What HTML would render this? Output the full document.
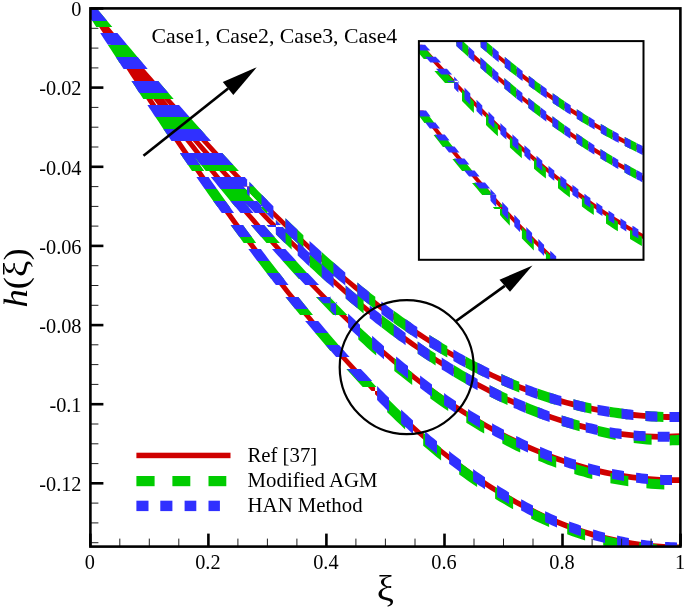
<!DOCTYPE html>
<html><head><meta charset="utf-8"><title>h(xi)</title>
<style>
html,body{margin:0;padding:0;background:#fff;}
svg{display:block;font-family:"Liberation Serif","DejaVu Serif",serif;}
</style></head><body>
<svg width="685" height="609" viewBox="0 0 685 609">
<rect width="685" height="609" fill="#fff"/>
<defs><clipPath id="pc"><rect x="90.4" y="8.4" width="590.0" height="538.2"/></clipPath>
<clipPath id="ic"><rect x="418.9" y="41.1" width="224.6" height="218.7"/></clipPath></defs>
<g clip-path="url(#pc)">
<path fill="#cf0000" d="M87.2,8.5 91.6,15.4 96.0,22.1 100.4,28.9 104.7,35.6 109.2,42.4 113.5,49.1 117.9,55.9 122.2,62.5 126.7,69.3 131.0,75.9 135.4,82.6 139.7,89.2 144.2,95.8 148.5,102.4 152.9,109.0 157.3,115.5 161.7,122.1 166.0,128.5 170.4,135.0 174.8,141.4 179.2,147.9 183.5,154.2 187.9,160.6 192.3,166.9 196.7,173.3 201.0,179.4 205.4,185.7 209.8,191.9 214.2,198.1 218.5,204.2 222.9,210.3 227.3,216.3 231.7,222.4 236.0,228.3 240.4,234.3 244.8,240.1 249.2,246.1 253.5,251.8 257.9,257.6 262.3,263.3 266.7,269.1 271.0,274.6 275.4,280.3 279.8,285.8 284.2,291.4 288.5,296.8 292.9,302.2 297.3,307.5 301.7,312.9 306.0,318.1 310.4,323.4 314.7,328.5 319.2,333.7 323.5,338.7 327.9,343.7 332.2,348.6 336.6,353.6 341.0,358.4 345.4,363.2 349.7,367.9 354.1,372.7 358.4,377.2 362.9,381.9 367.2,386.3 371.6,390.9 378.2,390.9 373.8,386.3 369.5,381.9 365.0,377.2 360.7,372.7 356.3,367.9 351.9,363.2 347.5,358.4 343.1,353.6 338.7,348.6 334.4,343.7 329.9,338.7 325.6,333.7 321.2,328.5 316.8,323.4 312.4,318.1 308.1,312.9 303.6,307.5 299.3,302.2 294.9,296.8 290.5,291.4 286.1,285.8 281.8,280.3 277.3,274.6 273.0,269.1 268.6,263.3 264.2,257.6 259.8,251.8 255.5,246.1 251.1,240.1 246.7,234.3 242.3,228.3 238.0,222.4 233.5,216.3 229.2,210.3 224.8,204.2 220.4,198.1 216.0,191.9 211.7,185.7 207.2,179.4 202.9,173.3 198.5,166.9 194.2,160.6 189.7,154.2 185.4,147.9 181.0,141.4 176.6,135.0 172.2,128.5 167.9,122.1 163.4,115.5 159.1,109.0 154.7,102.4 150.4,95.8 145.9,89.2 141.6,82.6 137.2,75.9 132.8,69.3 128.4,62.5 124.1,55.9 119.7,49.1 115.3,42.4 110.9,35.6 106.6,28.9 102.1,22.1 97.8,15.4 93.4,8.5ZM375.0,387.6 381.8,394.4 388.6,401.1 395.4,407.7 402.2,414.0 409.0,420.3 415.8,426.4 422.5,432.4 429.3,438.2 436.1,443.9 442.9,449.4 449.7,454.7 456.5,459.9 463.3,465.0 470.1,469.9 476.8,474.7 483.6,479.3 490.4,483.7 497.2,488.0 504.0,492.1 510.8,496.1 517.6,499.9 524.4,503.6 531.3,507.1 538.0,510.5 544.8,513.7 551.6,516.7 558.4,519.6 565.2,522.3 572.0,524.8 578.8,527.2 585.6,529.5 592.4,531.5 599.1,533.5 605.9,535.2 612.7,536.8 619.5,538.3 626.3,539.6 633.1,540.7 639.9,541.7 646.7,542.6 653.4,543.3 660.2,543.8 667.0,544.2 673.8,544.4 680.6,544.5 680.6,550.3 673.8,550.2 667.0,550.0 660.2,549.6 653.4,549.1 646.7,548.4 639.9,547.5 633.1,546.6 626.3,545.4 619.5,544.1 612.7,542.7 605.9,541.1 599.1,539.3 592.4,537.4 585.6,535.3 578.8,533.1 572.0,530.7 565.2,528.2 558.4,525.5 551.6,522.7 544.8,519.6 538.0,516.5 531.3,513.2 524.4,509.6 517.6,506.0 510.8,502.2 504.0,498.2 497.2,494.1 490.4,489.9 483.6,485.5 476.8,480.9 470.1,476.2 463.3,471.3 456.5,466.2 449.7,461.1 442.9,455.7 436.1,450.2 429.3,444.6 422.5,438.8 415.8,432.9 409.0,426.8 402.2,420.6 395.4,414.2 388.6,407.7 381.8,401.1 375.0,394.3ZM87.2,8.5 91.8,15.0 96.4,21.5 101.0,27.9 105.7,34.4 110.3,40.8 114.9,47.2 119.4,53.4 124.1,59.7 128.7,66.0 133.3,72.3 137.9,78.6 142.5,84.8 147.2,91.0 151.8,97.2 156.4,103.3 161.0,109.4 165.7,115.5 170.3,121.5 174.9,127.6 179.4,133.4 184.0,139.4 188.7,145.3 193.3,151.2 197.9,157.0 202.5,162.8 207.1,168.6 211.8,174.3 216.4,180.0 221.0,185.6 225.6,191.2 230.2,196.8 234.9,202.3 239.4,207.7 244.0,213.2 248.6,218.6 253.2,223.9 257.9,229.2 262.5,234.5 267.1,239.7 271.7,244.9 276.3,250.1 281.0,255.1 285.6,260.2 290.2,265.2 294.8,270.1 299.3,274.9 303.9,279.8 308.6,284.6 313.2,289.3 317.8,294.0 322.4,298.7 327.0,303.3 333.7,303.3 329.1,298.7 324.4,294.0 319.8,289.3 315.2,284.6 310.5,279.8 305.9,274.9 301.4,270.1 296.7,265.2 292.1,260.2 287.5,255.1 282.8,250.1 278.2,244.9 273.6,239.7 269.0,234.5 264.3,229.2 259.7,223.9 255.1,218.6 250.4,213.2 245.8,207.7 241.3,202.3 236.6,196.8 232.0,191.2 227.4,185.6 222.8,180.0 218.1,174.3 213.5,168.6 208.9,162.8 204.3,157.0 199.6,151.2 195.0,145.3 190.4,139.4 185.7,133.4 181.2,127.6 176.6,121.5 172.0,115.5 167.3,109.4 162.7,103.3 158.1,97.2 153.5,91.0 148.8,84.8 144.2,78.6 139.6,72.3 135.0,66.0 130.3,59.7 125.7,53.4 121.2,47.2 116.5,40.8 111.9,34.4 107.3,27.9 102.7,21.5 98.0,15.0 93.4,8.5ZM330.5,300.1 337.3,306.8 344.2,313.5 351.0,319.9 357.9,326.3 364.8,332.6 371.7,338.8 378.5,344.8 385.4,350.7 392.2,356.5 399.1,362.2 406.0,367.7 412.8,373.1 419.7,378.4 426.6,383.5 433.5,388.6 440.3,393.5 447.1,398.2 454.0,402.8 460.9,407.3 467.8,411.7 474.6,415.9 481.5,420.0 488.4,423.9 495.2,427.7 502.1,431.4 508.9,434.9 515.8,438.3 522.7,441.6 529.6,444.7 536.5,447.7 543.3,450.5 550.1,453.2 557.0,455.7 563.9,458.2 570.7,460.4 577.6,462.5 584.5,464.5 591.4,466.4 598.3,468.1 605.0,469.6 611.9,471.0 618.8,472.3 625.7,473.4 632.6,474.4 639.4,475.2 646.3,475.9 653.2,476.5 660.0,476.9 666.8,477.1 673.7,477.3 680.6,477.2 680.6,483.0 673.7,483.1 666.8,482.9 660.0,482.7 653.2,482.3 646.3,481.7 639.4,481.0 632.6,480.2 625.7,479.2 618.8,478.1 611.9,476.8 605.0,475.4 598.3,473.9 591.4,472.2 584.5,470.4 577.6,468.4 570.7,466.3 563.9,464.1 557.0,461.7 550.1,459.1 543.3,456.4 536.5,453.6 529.6,450.7 522.7,447.6 515.8,444.3 508.9,440.9 502.1,437.5 495.2,433.8 488.4,430.0 481.5,426.1 474.6,422.0 467.8,417.8 460.9,413.5 454.0,409.0 447.1,404.4 440.3,399.7 433.5,394.8 426.6,389.8 419.7,384.7 412.8,379.4 406.0,374.1 399.1,368.6 392.2,362.9 385.4,357.1 378.5,351.2 371.7,345.3 364.8,339.1 357.9,332.9 351.0,326.5 344.2,320.1 337.3,313.4 330.5,306.7ZM87.2,8.5 91.9,14.9 96.7,21.3 101.4,27.6 106.1,33.8 111.0,40.1 115.7,46.3 120.4,52.4 125.2,58.6 129.9,64.6 134.6,70.6 139.5,76.7 144.2,82.6 148.9,88.5 153.7,94.4 158.4,100.2 163.2,106.0 168.0,111.8 172.7,117.4 177.4,123.0 182.2,128.7 186.9,134.3 191.7,139.8 196.5,145.3 201.2,150.7 205.9,156.1 210.7,161.5 215.4,166.8 220.2,172.0 225.0,177.3 229.7,182.5 234.4,187.6 239.2,192.7 243.9,197.7 248.6,202.7 253.5,207.7 258.2,212.6 262.9,217.5 267.7,222.4 272.4,227.1 279.1,227.1 274.4,222.4 269.5,217.5 264.8,212.6 260.1,207.7 255.2,202.7 250.5,197.7 245.8,192.7 241.0,187.6 236.2,182.5 231.5,177.3 226.7,172.0 221.9,166.8 217.2,161.5 212.4,156.1 207.7,150.7 202.9,145.3 198.1,139.8 193.4,134.3 188.7,128.7 183.8,123.0 179.1,117.4 174.4,111.8 169.5,106.0 164.8,100.2 160.1,94.4 155.3,88.5 150.5,82.6 145.8,76.7 141.0,70.6 136.3,64.6 131.5,58.6 126.7,52.4 122.0,46.3 117.3,40.1 112.4,33.8 107.7,27.6 103.0,21.3 98.2,14.9 93.4,8.5ZM275.9,223.9 282.6,230.6 289.3,237.2 296.1,243.7 302.8,250.1 309.6,256.5 316.3,262.7 323.1,268.9 329.9,274.9 336.6,280.8 343.3,286.7 350.0,292.4 356.8,298.1 363.5,303.6 370.3,309.1 377.0,314.4 383.8,319.7 390.6,324.9 397.3,329.9 404.0,334.8 410.7,339.6 417.5,344.4 424.2,349.0 431.0,353.5 437.8,357.9 444.5,362.1 451.3,366.3 458.0,370.4 464.7,374.3 471.4,378.1 478.2,381.9 485.0,385.5 491.7,388.9 498.5,392.3 505.2,395.5 512.0,398.6 518.7,401.6 525.4,404.5 532.2,407.2 538.9,409.8 545.7,412.3 552.4,414.7 559.2,416.9 565.9,419.0 572.7,421.0 579.5,422.8 586.2,424.5 592.9,426.1 599.6,427.5 606.4,428.8 613.1,429.9 619.9,430.9 626.6,431.8 633.4,432.5 640.2,433.1 646.9,433.5 653.6,433.7 660.3,433.9 667.1,433.8 673.8,433.6 680.6,433.3 680.6,439.1 673.8,439.4 667.1,439.6 660.3,439.7 653.6,439.5 646.9,439.3 640.2,438.9 633.4,438.3 626.6,437.6 619.9,436.7 613.1,435.7 606.4,434.6 599.6,433.3 592.9,431.9 586.2,430.4 579.5,428.7 572.7,426.9 565.9,424.9 559.2,422.8 552.4,420.6 545.7,418.3 538.9,415.8 532.2,413.2 525.4,410.4 518.7,407.6 512.0,404.6 505.2,401.5 498.5,398.3 491.7,394.9 485.0,391.5 478.2,387.9 471.4,384.2 464.7,380.4 458.0,376.5 451.3,372.5 444.5,368.3 437.8,364.1 431.0,359.7 424.2,355.1 417.5,350.6 410.7,345.9 404.0,341.1 397.3,336.2 390.6,331.2 383.8,326.0 377.0,320.8 370.3,315.5 363.5,310.0 356.8,304.5 350.0,298.9 343.3,293.2 336.6,287.3 329.9,281.4 323.1,275.4 316.3,269.2 309.6,263.0 302.8,256.7 296.1,250.3 289.3,243.8 282.6,237.3 275.9,230.5ZM87.1,8.5 92.0,14.4 96.9,20.3 101.8,26.0 106.7,31.9 111.6,37.7 116.5,43.6 121.3,49.3 126.2,55.1 131.2,60.9 136.1,66.7 141.0,72.5 145.8,78.1 150.7,83.8 155.6,89.5 160.6,95.2 165.4,100.7 170.3,106.3 175.2,111.9 180.1,117.5 185.0,123.0 189.9,128.4 194.8,133.9 199.7,139.4 204.6,144.8 209.5,150.2 214.3,155.4 219.3,160.7 224.2,166.0 229.1,171.2 233.9,176.3 238.8,181.5 243.7,186.6 250.3,186.6 245.4,181.5 240.5,176.3 235.7,171.2 230.7,166.0 225.8,160.7 220.9,155.4 216.1,150.2 211.1,144.8 206.2,139.4 201.3,133.9 196.4,128.4 191.5,123.0 186.6,117.5 181.7,111.9 176.8,106.3 171.8,100.7 167.0,95.2 162.1,89.5 157.2,83.8 152.3,78.1 147.4,72.5 142.5,66.7 137.6,60.9 132.7,55.1 127.7,49.3 122.9,43.6 118.0,37.7 113.1,31.9 108.2,26.0 103.3,20.3 98.4,14.4 93.5,8.5ZM247.1,183.3 253.8,190.2 260.5,197.1 267.1,203.7 273.8,210.4 280.5,216.9 287.2,223.4 293.8,229.7 300.4,236.0 307.1,242.3 313.8,248.4 320.5,254.4 327.1,260.3 333.8,266.1 340.5,271.8 347.2,277.4 353.9,283.0 360.5,288.3 367.2,293.6 373.8,298.8 380.5,304.0 387.1,308.9 393.8,313.8 400.5,318.5 407.2,323.2 413.9,327.7 420.5,332.1 427.2,336.4 433.9,340.6 440.5,344.7 447.2,348.7 453.8,352.5 460.5,356.3 467.2,359.9 473.9,363.4 480.5,366.7 487.2,370.0 493.9,373.2 500.6,376.2 507.2,379.1 513.8,381.9 520.5,384.5 527.2,387.1 533.9,389.5 540.6,391.9 547.2,394.0 553.9,396.1 560.6,398.1 567.3,399.9 573.9,401.6 580.5,403.3 587.2,404.8 593.9,406.2 600.6,407.4 607.2,408.6 613.9,409.6 620.6,410.6 627.3,411.4 634.0,412.1 640.6,412.7 647.2,413.2 653.9,413.6 660.6,413.9 667.2,414.1 673.9,414.2 680.6,414.2 680.6,420.0 673.9,420.0 667.2,419.9 660.6,419.7 653.9,419.4 647.2,419.0 640.6,418.5 634.0,417.9 627.3,417.2 620.6,416.4 613.9,415.5 607.2,414.4 600.6,413.3 593.9,412.0 587.2,410.6 580.5,409.1 573.9,407.5 567.3,405.8 560.6,403.9 553.9,402.0 547.2,399.9 540.6,397.8 533.9,395.4 527.2,393.0 520.5,390.5 513.8,387.8 507.2,385.1 500.6,382.2 493.9,379.1 487.2,376.0 480.5,372.7 473.9,369.4 467.2,365.9 460.5,362.3 453.8,358.6 447.2,354.8 440.5,350.9 433.9,346.8 427.2,342.6 420.5,338.3 413.9,333.9 407.2,329.4 400.5,324.8 393.8,320.0 387.1,315.1 380.5,310.2 373.8,305.2 367.2,300.0 360.5,294.7 353.9,289.4 347.2,283.8 340.5,278.2 333.8,272.5 327.1,266.7 320.5,260.9 313.8,254.9 307.1,248.8 300.4,242.6 293.8,236.3 287.2,230.0 280.5,223.6 273.8,217.0 267.1,210.4 260.5,203.8 253.8,196.9 247.1,190.1Z"/>
<path fill="#00cc00" d="M84.7,9.1 87.6,13.5 90.4,18.0 93.4,22.5 96.2,26.9 108.2,26.9 105.3,22.5 102.4,18.0 99.5,13.5 96.6,9.1ZM107.9,45.0 110.9,49.5 113.8,54.1 116.7,58.4 119.6,63.0 131.6,63.0 128.6,58.4 125.8,54.1 122.8,49.5 119.9,45.0ZM131.5,81.1 134.5,85.6 137.4,90.0 140.4,94.5 143.3,99.0 155.3,99.0 152.4,94.5 149.4,90.0 146.5,85.6 143.5,81.1ZM155.4,117.1 158.5,121.6 161.4,126.0 164.3,130.4 167.4,134.9 179.5,134.9 176.4,130.4 173.5,126.0 170.5,121.6 167.5,117.1ZM179.8,153.1 182.8,157.5 186.0,162.1 189.0,166.5 192.0,170.9 204.2,170.9 201.2,166.5 198.1,162.1 195.0,157.5 191.9,153.1ZM204.8,189.1 207.9,193.5 211.1,198.0 214.3,202.5 217.5,206.9 229.8,206.9 226.6,202.5 223.4,198.0 220.2,193.5 217.0,189.1ZM230.6,225.1 233.8,229.5 237.2,234.0 240.5,238.6 243.7,242.9 256.2,242.9 253.0,238.6 249.6,234.0 246.2,229.5 243.0,225.1ZM257.4,261.0 260.8,265.5 264.2,270.0 267.7,274.5 271.2,278.9 283.9,278.9 280.4,274.5 276.9,270.0 273.4,265.5 269.9,261.0ZM285.5,297.0 289.1,301.5 292.8,306.1 296.4,310.5 300.1,315.0 313.0,315.0 309.4,310.5 305.7,306.1 302.0,301.5 298.3,297.0ZM315.1,333.1 319.0,337.6 322.8,342.1 326.6,346.5 330.4,351.0 343.7,351.0 339.8,346.5 336.0,342.1 332.1,337.6 328.2,333.1ZM346.3,369.0 350.4,373.6 354.5,378.1 358.6,382.5 362.7,386.9 376.5,386.9 372.3,382.5 368.2,378.1 364.0,373.6 359.8,369.0ZM387.2,398.0 391.7,402.6 396.2,407.0 400.6,411.3 405.1,415.7 405.1,429.4 400.6,425.1 396.2,420.9 391.7,416.6 387.2,412.2ZM423.2,432.4 427.8,436.4 432.2,440.2 436.6,443.9 441.1,447.7 441.1,460.5 436.6,456.9 432.2,453.3 427.8,449.6 423.2,445.7ZM459.2,461.9 463.8,465.3 468.2,468.6 472.6,471.7 477.1,474.9 477.1,487.0 472.6,483.9 468.2,480.9 463.8,477.7 459.2,474.4ZM495.1,486.9 499.6,489.7 504.1,492.4 508.6,495.1 513.1,497.7 513.1,509.2 508.6,506.7 504.1,504.1 499.6,501.4 495.1,498.7ZM531.2,507.5 535.6,509.7 540.1,511.9 544.6,514.1 549.1,516.1 549.1,527.0 544.6,525.1 540.1,523.0 535.6,520.9 531.2,518.7ZM567.2,523.6 571.6,525.3 576.1,527.0 580.6,528.5 585.1,530.0 585.1,540.5 580.6,539.1 576.1,537.5 571.6,536.0 567.2,534.3ZM603.2,535.3 607.6,536.4 612.1,537.5 616.7,538.5 621.1,539.4 621.1,549.6 616.7,548.7 612.1,547.7 607.6,546.7 603.2,545.6ZM639.2,542.5 643.6,543.1 648.1,543.6 652.7,544.1 657.1,544.4 657.1,554.5 652.7,554.1 648.1,553.7 643.6,553.1 639.2,552.6ZM675.2,545.3 676.6,545.4 677.8,545.4 679.2,545.4 680.6,545.4 680.6,555.4 679.2,555.4 677.8,555.4 676.6,555.4 675.2,555.3ZM84.6,9.1 87.7,13.5 90.9,18.0 94.2,22.6 97.3,27.0 109.6,27.0 106.5,22.6 103.2,18.0 100.0,13.5 96.8,9.1ZM110.3,45.0 113.5,49.5 116.8,53.9 120.1,58.5 123.4,62.9 135.8,62.9 132.5,58.5 129.1,53.9 125.9,49.5 122.6,45.0ZM136.7,81.1 140.0,85.6 143.3,89.9 146.6,94.4 150.0,98.9 162.5,98.9 159.1,94.4 155.8,89.9 152.5,85.6 149.2,81.1ZM163.7,117.0 167.1,121.5 170.6,126.0 174.0,130.5 177.4,134.9 190.1,134.9 186.6,130.5 183.2,126.0 179.7,121.5 176.3,117.0ZM191.6,153.0 195.1,157.5 198.6,161.9 202.2,166.5 205.8,170.9 218.6,170.9 215.1,166.5 211.4,161.9 207.9,157.5 204.3,153.0ZM220.6,189.1 224.3,193.6 228.0,198.1 231.6,202.5 235.4,206.9 248.5,206.9 244.7,202.5 241.0,198.1 237.3,193.6 233.5,189.1ZM250.8,225.1 254.7,229.6 258.7,234.1 262.6,238.5 266.5,243.0 279.9,243.0 275.9,238.5 272.0,234.1 268.0,229.6 264.1,225.1ZM282.6,261.0 286.7,265.6 290.7,270.0 294.8,274.5 298.9,279.0 312.6,279.0 308.4,274.5 304.3,270.0 300.2,265.6 296.1,261.0ZM315.9,297.1 320.2,301.6 324.5,306.1 328.8,310.5 333.1,314.9 347.3,314.9 342.9,310.5 338.5,306.1 334.1,301.6 329.7,297.1ZM358.3,325.7 362.8,330.0 367.2,334.1 371.7,338.2 376.2,342.3 376.2,355.6 371.7,351.7 367.2,347.7 362.8,343.6 358.3,339.4ZM394.3,357.9 398.8,361.7 403.3,365.3 407.7,368.9 412.2,372.4 412.2,385.1 407.7,381.6 403.3,378.1 398.8,374.6 394.3,370.9ZM430.3,386.2 434.8,389.5 439.3,392.7 443.7,395.8 448.2,399.0 448.2,411.1 443.7,408.0 439.3,405.0 434.8,401.8 430.3,398.6ZM466.3,411.0 470.8,413.9 475.3,416.6 479.7,419.3 484.2,422.0 484.2,433.6 479.7,431.0 475.3,428.3 470.8,425.6 466.3,422.8ZM502.3,432.3 506.9,434.7 511.3,437.0 515.7,439.2 520.2,441.5 520.2,452.6 515.7,450.4 511.3,448.2 506.9,445.9 502.3,443.6ZM538.3,449.8 542.9,451.8 547.3,453.6 551.7,455.4 556.2,457.1 556.2,467.8 551.7,466.1 547.3,464.4 542.9,462.6 538.3,460.7ZM574.3,463.5 578.9,464.9 583.3,466.2 587.7,467.5 592.3,468.7 592.3,479.1 587.7,477.9 583.3,476.6 578.9,475.4 574.3,474.0ZM610.4,473.0 614.9,473.9 619.3,474.7 623.7,475.4 628.3,476.1 628.3,486.2 623.7,485.6 619.3,484.8 614.9,484.1 610.4,483.2ZM646.4,478.3 650.9,478.7 655.3,479.0 659.7,479.3 664.3,479.5 664.3,489.5 659.7,489.3 655.3,489.0 650.9,488.7 646.4,488.3ZM84.5,9.0 87.8,13.5 91.1,18.0 94.5,22.5 97.8,26.9 110.3,26.9 107.0,22.5 103.6,18.0 100.3,13.5 96.9,9.0ZM111.5,45.0 115.0,49.5 118.4,53.9 121.9,58.5 125.4,62.9 138.1,62.9 134.6,58.5 131.1,53.9 127.6,49.5 124.2,45.0ZM139.7,81.0 143.3,85.5 146.8,89.9 150.5,94.4 154.1,98.9 167.0,98.9 163.4,94.4 159.7,89.9 156.1,85.5 152.5,81.0ZM169.1,117.1 172.9,121.6 176.6,126.1 180.3,130.5 184.2,135.0 197.3,135.0 193.5,130.5 189.7,126.1 186.0,121.6 182.1,117.1ZM199.8,153.1 203.8,157.6 207.8,162.1 211.7,166.5 215.7,170.9 229.2,170.9 225.1,166.5 221.2,162.1 217.2,157.6 213.2,153.1ZM232.2,189.0 236.4,193.6 240.6,198.1 244.8,202.5 249.0,206.9 262.9,206.9 258.7,202.5 254.4,198.1 250.1,193.6 245.9,189.0ZM266.6,225.0 267.1,225.5 267.6,226.0 268.2,226.6 268.7,227.1 282.8,227.1 282.3,226.6 281.7,226.0 281.2,225.5 280.7,225.0ZM275.9,220.1 279.8,224.1 283.7,228.0 287.7,231.9 291.6,235.7 291.6,249.6 287.7,245.8 283.7,242.0 279.8,238.2 275.9,234.3ZM309.7,253.0 314.2,257.3 318.6,261.3 323.1,265.4 327.6,269.5 327.6,282.9 323.1,278.9 318.6,274.9 314.2,270.8 309.7,266.7ZM345.7,285.4 350.2,289.3 354.7,293.0 359.1,296.7 363.6,300.5 363.6,313.4 359.1,309.7 354.7,306.0 350.2,302.4 345.7,298.6ZM381.7,315.0 386.2,318.5 390.7,321.8 395.1,325.2 399.6,328.6 399.6,340.9 395.1,337.6 390.7,334.4 386.2,331.0 381.7,327.6ZM417.7,341.5 422.2,344.7 426.7,347.7 431.1,350.7 435.6,353.6 435.6,365.5 431.1,362.6 426.7,359.7 422.2,356.8 417.7,353.7ZM453.7,365.1 458.3,367.8 462.7,370.4 467.1,373.0 471.6,375.5 471.6,387.0 467.1,384.5 462.7,382.0 458.3,379.4 453.7,376.7ZM489.6,385.3 494.1,387.5 498.6,389.8 503.1,392.0 507.5,394.1 507.5,405.1 503.1,403.1 498.6,400.9 494.1,398.7 489.6,396.5ZM525.6,402.1 530.1,404.0 534.6,405.8 539.1,407.5 543.6,409.2 543.6,419.8 539.1,418.2 534.6,416.5 530.1,414.7 525.6,413.0ZM561.7,415.4 566.1,416.8 570.6,418.2 575.1,419.5 579.6,420.8 579.6,431.2 575.1,429.9 570.6,428.6 566.1,427.2 561.7,425.9ZM597.7,425.7 602.1,426.7 606.6,427.8 611.1,428.8 615.6,429.7 615.6,439.9 611.1,439.0 606.6,438.0 602.1,437.0 597.7,436.0ZM633.7,432.8 638.1,433.4 642.6,434.0 647.1,434.4 651.6,434.8 651.6,444.8 647.1,444.5 642.6,444.0 638.1,443.5 633.7,442.9ZM669.7,435.4 672.4,435.3 675.1,435.3 677.8,435.1 680.6,435.0 680.6,445.0 677.8,445.2 675.1,445.3 672.4,445.3 669.7,445.4ZM84.3,9.1 88.0,13.6 91.8,18.0 95.5,22.5 99.2,27.0 112.3,27.0 108.5,22.5 104.8,18.0 101.0,13.6 97.3,9.1ZM114.4,45.0 118.2,49.5 121.9,54.0 125.7,58.4 129.5,62.9 142.6,62.9 138.8,58.4 135.0,54.0 131.3,49.5 127.4,45.0ZM145.0,81.1 148.8,85.5 152.8,90.1 156.6,94.5 160.4,98.9 173.7,98.9 169.8,94.5 166.0,90.1 162.0,85.5 158.2,81.1ZM176.3,117.1 180.2,121.5 184.2,126.0 188.3,130.5 192.2,134.9 205.6,134.9 201.7,130.5 197.6,126.0 193.6,121.5 189.7,117.1ZM208.6,153.1 212.8,157.5 216.9,162.0 221.1,166.5 225.2,170.9 238.9,170.9 234.8,166.5 230.5,162.0 226.4,157.5 222.2,153.1ZM249.5,182.0 254.0,186.6 258.4,191.2 262.9,195.7 267.4,200.3 267.4,214.4 262.9,209.9 258.4,205.4 254.0,201.0 249.5,196.3ZM285.5,218.2 290.0,222.5 294.4,226.8 298.9,231.0 303.4,235.2 303.4,248.9 298.9,244.7 294.4,240.6 290.0,236.4 285.5,232.1ZM321.5,251.8 325.9,255.8 330.4,259.7 334.9,263.6 339.3,267.5 339.3,280.6 334.9,276.8 330.4,273.0 325.9,269.1 321.5,265.2ZM357.4,282.6 361.8,286.2 366.4,289.8 370.9,293.4 375.3,296.8 375.3,309.4 370.9,306.1 366.4,302.5 361.8,299.0 357.4,295.5ZM393.4,310.4 397.8,313.6 402.4,316.9 406.9,320.0 411.3,323.1 411.3,335.2 406.9,332.2 402.4,329.1 397.8,325.9 393.4,322.8ZM429.4,335.0 433.9,337.8 438.4,340.6 442.9,343.4 447.3,346.0 447.3,357.6 442.9,355.0 438.4,352.3 433.9,349.6 429.4,346.9ZM465.4,356.3 469.9,358.7 474.4,361.0 478.9,363.4 483.3,365.6 483.3,376.7 478.9,374.5 474.4,372.3 469.9,370.0 465.4,367.6ZM501.4,374.1 505.9,376.0 510.4,378.0 514.9,379.9 519.3,381.7 519.3,392.4 514.9,390.7 510.4,388.8 505.9,386.9 501.4,385.0ZM537.5,388.4 541.9,390.0 546.4,391.5 550.9,392.9 555.4,394.3 555.4,404.7 550.9,403.4 546.4,402.0 541.9,400.5 537.5,399.0ZM573.5,399.3 577.9,400.4 582.4,401.5 586.9,402.5 591.4,403.5 591.4,413.7 586.9,412.7 582.4,411.7 577.9,410.7 573.5,409.6ZM609.5,406.8 613.9,407.5 618.4,408.1 622.9,408.7 627.4,409.3 627.4,419.4 622.9,418.8 618.4,418.2 613.9,417.6 609.5,416.9ZM645.5,411.0 649.9,411.3 654.4,411.6 659.0,411.8 663.4,411.9 663.4,421.9 659.0,421.8 654.4,421.6 649.9,421.3 645.5,421.0Z"/>
<path fill="#3030ff" d="M84.7,9.1 86.6,12.0 88.5,14.9 90.4,18.0 92.3,20.9 104.2,20.9 102.4,18.0 100.4,14.9 98.5,12.0 96.6,9.1ZM100.2,33.0 102.1,35.9 104.0,38.9 106.0,42.0 107.9,44.8 119.8,44.8 117.9,42.0 115.9,38.9 114.0,35.9 112.1,33.0ZM115.8,57.1 117.8,60.1 119.7,63.1 121.6,66.0 123.6,69.0 135.5,69.0 133.6,66.0 131.7,63.1 129.7,60.1 127.8,57.1ZM131.5,81.1 133.5,84.1 135.5,87.1 137.3,89.9 139.3,92.9 151.3,92.9 149.3,89.9 147.5,87.1 145.5,84.1 143.5,81.1ZM147.4,105.0 149.3,108.0 151.4,111.1 153.3,114.0 155.3,116.9 167.4,116.9 165.4,114.0 163.4,111.1 161.3,108.0 159.4,105.0ZM163.5,129.1 165.5,132.1 167.5,135.0 169.5,137.9 171.5,141.0 183.6,141.0 181.5,137.9 179.6,135.0 177.6,132.1 175.5,129.1ZM179.8,153.1 181.8,156.1 183.8,158.9 185.9,161.9 187.9,164.9 200.1,164.9 198.0,161.9 195.9,158.9 194.0,156.1 191.9,153.1ZM196.4,177.1 198.4,180.0 200.5,183.0 202.6,186.0 204.7,189.0 216.9,189.0 214.9,186.0 212.7,183.0 210.6,180.0 208.6,177.1ZM213.2,201.0 215.4,204.0 217.6,207.0 219.6,209.9 221.8,212.9 234.1,212.9 231.9,209.9 229.9,207.0 227.7,204.0 225.5,201.0ZM230.6,225.1 232.8,228.0 235.0,231.1 237.2,234.0 239.3,237.0 251.8,237.0 249.6,234.0 247.4,231.1 245.2,228.0 243.0,225.1ZM248.3,249.1 250.6,252.1 252.8,255.1 255.0,257.9 257.3,260.9 269.8,260.9 267.6,257.9 265.4,255.1 263.1,252.1 260.9,249.1ZM266.6,273.0 268.9,276.0 271.3,279.0 273.5,281.9 275.9,284.9 288.6,284.9 286.2,281.9 284.0,279.0 281.6,276.0 279.2,273.0ZM285.5,297.0 287.9,300.0 290.3,303.0 292.7,306.0 295.2,309.0 308.1,309.0 305.6,306.0 303.2,303.0 300.8,300.0 298.3,297.0ZM305.1,321.0 307.7,324.1 310.2,327.1 312.7,330.0 315.2,333.0 328.4,333.0 325.8,330.0 323.3,327.1 320.8,324.1 318.2,321.0ZM325.7,345.1 328.3,348.1 330.9,351.1 333.5,353.9 336.1,356.9 349.6,356.9 346.9,353.9 344.3,351.1 341.7,348.1 339.0,345.1ZM347.1,369.0 350.0,372.0 352.8,375.1 355.5,378.0 358.3,381.0 372.2,381.0 369.3,378.0 366.6,375.1 363.7,372.0 360.8,369.0ZM377.1,385.9 380.0,388.9 383.1,392.0 386.0,394.9 389.0,397.8 389.0,411.8 386.0,408.9 383.1,406.1 380.0,403.1 377.1,400.1ZM401.1,409.5 404.0,412.2 407.1,415.1 410.0,417.8 413.0,420.5 413.0,433.9 410.0,431.3 407.1,428.6 404.0,425.9 401.1,423.2ZM425.1,431.2 428.0,433.8 431.1,436.4 434.1,438.8 437.0,441.3 437.0,454.2 434.1,451.8 431.1,449.4 428.0,446.9 425.1,444.4ZM449.1,451.1 452.1,453.4 455.1,455.8 458.1,458.0 461.0,460.3 461.0,472.7 458.1,470.5 455.1,468.3 452.1,466.0 449.1,463.8ZM473.1,469.1 476.1,471.2 479.1,473.3 482.1,475.3 485.0,477.3 485.0,489.3 482.1,487.3 479.1,485.4 476.1,483.3 473.1,481.3ZM497.1,485.1 500.1,487.0 503.1,488.8 506.1,490.6 509.0,492.4 509.0,503.9 506.1,502.2 503.1,500.5 500.1,498.7 497.1,496.9ZM521.1,499.2 524.1,500.8 527.1,502.4 530.1,503.9 533.0,505.4 533.0,516.6 530.1,515.2 527.1,513.7 524.1,512.1 521.1,510.6ZM545.1,511.3 548.1,512.6 551.1,514.0 554.1,515.3 557.0,516.6 557.0,527.4 554.1,526.2 551.1,524.9 548.1,523.6 545.1,522.3ZM569.1,521.4 572.1,522.5 575.1,523.6 578.1,524.6 581.0,525.7 581.0,536.2 578.1,535.2 575.1,534.2 572.1,533.1 569.1,532.1ZM593.1,529.5 596.1,530.3 599.1,531.2 602.1,532.0 605.0,532.8 605.0,543.1 602.1,542.3 599.1,541.6 596.1,540.7 593.1,539.9ZM617.1,535.6 620.1,536.2 623.0,536.8 626.0,537.4 628.9,537.9 628.9,548.0 626.0,547.5 623.0,547.0 620.1,546.4 617.1,545.8ZM641.0,539.7 644.0,540.1 647.0,540.5 650.0,540.8 653.0,541.1 653.0,551.1 650.0,550.9 647.0,550.5 644.0,550.2 641.0,549.8ZM665.1,542.0 668.0,542.1 671.0,542.2 674.0,542.3 677.0,542.4 677.0,552.4 674.0,552.3 671.0,552.2 668.0,552.1 665.1,552.0ZM84.6,9.1 86.7,12.1 88.8,15.0 90.8,17.9 93.0,20.9 105.3,20.9 103.1,17.9 101.1,15.0 99.0,12.1 96.8,9.1ZM101.7,33.0 103.8,36.0 106.0,39.0 108.0,41.9 110.2,44.8 122.5,44.8 120.4,41.9 118.3,39.0 116.1,36.0 114.0,33.0ZM119.0,57.0 121.2,60.0 123.5,63.1 125.6,66.0 127.8,69.0 140.2,69.0 138.0,66.0 135.9,63.1 133.6,60.0 131.4,57.0ZM136.7,81.1 139.0,84.1 141.1,87.0 143.3,89.9 145.5,93.0 158.0,93.0 155.8,89.9 153.6,87.0 151.4,84.1 149.2,81.1ZM154.6,105.0 156.8,108.0 159.1,111.0 161.3,114.0 163.6,116.9 176.2,116.9 173.9,114.0 171.6,111.0 169.4,108.0 167.1,105.0ZM172.9,129.1 175.2,132.0 177.4,134.9 179.8,138.0 182.0,140.9 194.7,140.9 192.5,138.0 190.1,134.9 187.8,132.0 185.6,129.1ZM191.6,153.0 193.9,156.0 196.3,159.0 198.6,161.9 201.0,164.9 213.8,164.9 211.4,161.9 209.0,159.0 206.7,156.0 204.3,153.0ZM210.8,177.1 213.2,180.1 215.7,183.1 218.0,186.0 220.5,189.0 233.4,189.0 231.0,186.0 228.6,183.1 226.1,180.1 223.7,177.1ZM230.5,201.0 232.9,204.0 235.5,207.0 238.0,210.0 240.5,212.9 253.6,212.9 251.1,210.0 248.6,207.0 246.0,204.0 243.5,201.0ZM250.8,225.1 253.5,228.1 256.0,231.0 258.6,234.0 261.2,237.0 274.6,237.0 271.9,234.0 269.3,231.0 266.7,228.1 264.1,225.1ZM272.0,249.1 274.6,252.0 277.3,255.0 280.1,258.0 282.7,260.9 296.3,260.9 293.7,258.0 290.9,255.0 288.1,252.0 285.4,249.1ZM294.0,273.1 296.8,276.1 299.6,279.1 302.4,281.9 305.2,284.9 319.1,284.9 316.2,281.9 313.5,279.1 310.6,276.1 307.7,273.1ZM317.0,297.0 318.6,298.6 320.1,300.2 321.7,301.7 323.2,303.3 337.5,303.3 335.9,301.7 334.3,300.2 332.7,298.6 331.1,297.0ZM330.5,296.3 331.8,297.7 333.2,299.1 334.6,300.4 336.0,301.8 336.0,315.8 334.6,314.4 333.2,313.1 331.8,311.8 330.5,310.4ZM348.1,313.5 351.0,316.3 354.0,319.1 357.0,322.0 360.0,324.7 360.0,338.3 357.0,335.6 354.0,332.8 351.0,330.1 348.1,327.3ZM372.1,335.7 375.0,338.3 378.0,340.9 381.0,343.6 384.0,346.2 384.0,359.3 381.0,356.8 378.0,354.2 375.0,351.6 372.1,349.1ZM396.1,356.4 399.0,358.8 402.0,361.3 405.0,363.7 408.0,366.1 408.0,378.8 405.0,376.5 402.0,374.1 399.0,371.7 396.1,369.3ZM420.1,375.6 423.0,377.8 426.0,380.0 429.0,382.3 432.0,384.5 432.0,396.8 429.0,394.7 426.0,392.5 423.0,390.3 420.1,388.1ZM444.1,393.1 447.0,395.2 450.0,397.2 453.0,399.3 456.0,401.2 456.0,413.2 453.0,411.3 450.0,409.2 447.0,407.3 444.1,405.3ZM468.1,409.1 471.0,410.9 474.0,412.7 477.0,414.6 480.0,416.3 480.0,427.9 477.0,426.2 474.0,424.4 471.0,422.6 468.1,420.8ZM492.1,423.3 495.0,425.0 498.0,426.6 501.1,428.2 504.0,429.8 504.0,441.0 501.1,439.5 498.0,437.9 495.0,436.4 492.1,434.8ZM516.1,435.9 519.1,437.3 522.0,438.7 525.1,440.2 528.0,441.5 528.0,452.5 525.1,451.2 522.0,449.8 519.1,448.4 516.1,447.0ZM540.1,446.8 543.1,448.0 546.0,449.2 549.1,450.4 552.0,451.5 552.0,462.2 549.1,461.1 546.0,459.9 543.1,458.8 540.1,457.6ZM564.1,455.9 567.1,456.9 570.0,457.9 573.1,458.9 576.0,459.8 576.0,470.2 573.1,469.3 570.0,468.4 567.1,467.4 564.1,466.5ZM588.1,463.3 591.1,464.1 594.0,464.8 597.1,465.6 600.0,466.3 600.0,476.5 597.1,475.8 594.0,475.1 591.1,474.4 588.1,473.6ZM612.1,468.9 615.1,469.4 618.0,470.0 621.1,470.5 624.0,471.0 624.0,481.1 621.1,480.6 618.0,480.1 615.1,479.6 612.1,479.1ZM636.1,472.7 639.1,473.1 642.0,473.4 645.1,473.7 648.0,473.9 648.0,484.0 645.1,483.7 642.0,483.4 639.1,483.1 636.1,482.8ZM660.1,474.8 663.1,474.9 666.0,475.0 669.1,475.1 672.0,475.1 672.0,485.1 669.1,485.1 666.0,485.0 663.1,484.9 660.1,484.8ZM84.5,9.0 86.6,11.9 88.9,15.0 91.1,18.0 93.3,20.9 105.8,20.9 103.6,18.0 101.4,15.0 99.1,11.9 96.9,9.0ZM102.4,33.0 104.7,36.0 106.9,39.0 109.2,41.9 111.4,44.9 124.1,44.9 121.8,41.9 119.5,39.0 117.2,36.0 115.0,33.0ZM120.9,57.1 123.1,60.0 125.5,63.0 127.8,66.0 130.1,68.9 142.8,68.9 140.5,66.0 138.2,63.0 135.8,60.0 133.5,57.1ZM139.7,81.0 142.1,84.1 144.5,87.0 146.8,89.9 149.3,93.0 162.2,93.0 159.7,89.9 157.3,87.0 155.0,84.1 152.5,81.0ZM159.1,105.0 161.5,108.0 164.1,111.1 166.5,114.0 169.0,117.0 182.0,117.0 179.6,114.0 177.1,111.1 174.5,108.0 172.0,105.0ZM179.2,129.1 181.7,132.1 184.3,135.1 186.7,137.9 189.3,140.9 202.5,140.9 199.9,137.9 197.4,135.1 194.9,132.1 192.3,129.1ZM199.8,153.1 202.5,156.1 205.0,159.0 207.7,162.0 210.3,164.9 223.7,164.9 221.1,162.0 218.4,159.0 215.8,156.1 213.2,153.1ZM221.2,177.0 223.9,180.0 226.6,183.0 229.4,186.0 232.1,188.9 245.8,188.9 243.0,186.0 240.3,183.0 237.5,180.0 234.7,177.0ZM243.5,201.1 246.3,204.1 249.1,207.0 252.0,210.0 254.8,212.9 268.8,212.9 265.9,210.0 263.0,207.0 260.1,204.1 257.3,201.1ZM266.6,225.0 267.1,225.5 267.6,226.0 268.2,226.6 268.7,227.1 282.8,227.1 282.3,226.6 281.7,226.0 281.2,225.5 280.7,225.0ZM275.9,220.1 278.3,222.6 280.8,225.1 283.1,227.4 285.6,229.8 285.6,243.8 283.1,241.4 280.8,239.1 278.3,236.7 275.9,234.3ZM297.7,241.6 300.6,244.5 303.6,247.3 306.6,250.2 309.6,252.9 309.6,266.6 306.6,263.9 303.6,261.0 300.6,258.2 297.7,255.5ZM321.7,264.1 324.6,266.8 327.6,269.5 330.7,272.2 333.6,274.8 333.6,288.2 330.7,285.6 327.6,282.9 324.6,280.3 321.7,277.6ZM345.7,285.4 348.7,287.9 351.6,290.4 354.7,293.0 357.6,295.5 357.6,308.5 354.7,306.0 351.6,303.5 348.7,301.0 345.7,298.6ZM369.7,305.4 372.7,307.8 375.6,310.2 378.7,312.6 381.6,314.9 381.6,327.5 378.7,325.2 375.6,322.9 372.7,320.6 369.7,318.2ZM393.7,324.2 396.7,326.4 399.6,328.6 402.7,330.8 405.6,332.9 405.6,345.3 402.7,343.1 399.6,340.9 396.7,338.8 393.7,336.6ZM417.7,341.5 420.7,343.6 423.6,345.6 426.7,347.7 429.6,349.7 429.6,361.7 426.7,359.7 423.6,357.7 420.7,355.7 417.7,353.7ZM441.7,357.6 444.7,359.4 447.6,361.3 450.7,363.2 453.6,365.0 453.6,376.7 450.7,374.9 447.6,373.0 444.7,371.2 441.7,369.4ZM465.7,372.2 468.7,373.9 471.6,375.5 474.7,377.3 477.6,378.9 477.6,390.3 474.7,388.7 471.6,387.0 468.7,385.4 465.7,383.7ZM489.6,385.3 492.6,386.8 495.6,388.3 498.6,389.8 501.5,391.2 501.5,402.3 498.6,400.9 495.6,399.5 492.6,398.0 489.6,396.5ZM513.6,396.9 516.6,398.2 519.6,399.6 522.6,400.8 525.5,402.1 525.5,412.9 522.6,411.7 519.6,410.5 516.6,409.1 513.6,407.9ZM537.6,407.0 540.6,408.1 543.7,409.2 546.6,410.3 549.6,411.4 549.6,421.9 546.6,420.9 543.7,419.9 540.6,418.8 537.6,417.7ZM561.7,415.4 564.6,416.3 567.7,417.3 570.6,418.1 573.6,419.0 573.6,429.4 570.6,428.5 567.7,427.7 564.6,426.8 561.7,425.9ZM585.7,422.2 588.6,422.9 591.7,423.6 594.6,424.2 597.6,424.9 597.6,435.1 594.6,434.5 591.7,433.8 588.6,433.1 585.7,432.5ZM609.7,427.2 612.6,427.7 615.7,428.2 618.6,428.6 621.6,429.0 621.6,439.1 618.6,438.7 615.7,438.3 612.6,437.8 609.7,437.3ZM633.7,430.4 636.6,430.7 639.7,430.9 642.6,431.1 645.6,431.3 645.6,441.3 642.6,441.1 639.7,440.9 636.6,440.7 633.7,440.4ZM657.7,431.7 660.6,431.8 663.7,431.8 666.6,431.7 669.6,431.7 669.6,441.7 666.6,441.7 663.7,441.8 660.6,441.8 657.7,441.7ZM84.3,9.1 86.7,12.0 89.3,15.1 91.8,18.0 94.2,21.0 107.2,21.0 104.8,18.0 102.3,15.1 99.8,12.0 97.3,9.1ZM104.3,33.1 106.8,36.0 109.3,39.0 111.8,42.0 114.3,44.9 127.3,44.9 124.9,42.0 122.4,39.0 119.9,36.0 117.4,33.1ZM124.6,57.1 127.0,60.0 129.6,63.0 132.1,66.0 134.6,68.9 147.7,68.9 145.3,66.0 142.7,63.0 140.1,60.0 137.7,57.1ZM145.0,81.1 147.6,84.0 150.1,87.0 152.7,90.0 155.2,92.9 168.4,92.9 165.9,90.0 163.3,87.0 160.8,84.0 158.2,81.1ZM165.7,105.0 168.4,108.0 171.0,111.0 173.6,113.9 176.2,116.9 189.6,116.9 186.9,113.9 184.3,111.0 181.7,108.0 179.0,105.0ZM186.9,129.0 189.5,132.0 192.2,134.9 194.9,138.0 197.6,140.9 211.1,140.9 208.4,138.0 205.6,134.9 203.0,132.0 200.3,129.0ZM208.6,153.1 211.4,156.1 214.1,159.0 216.9,162.0 219.6,164.9 233.3,164.9 230.5,162.0 227.8,159.0 225.0,156.1 222.2,153.1ZM231.0,177.0 233.2,179.4 235.5,181.8 237.8,184.3 240.1,186.6 254.0,186.6 251.7,184.3 249.3,181.8 247.0,179.4 244.8,177.0ZM247.1,179.5 247.7,180.1 248.3,180.7 248.8,181.2 249.4,181.9 249.4,196.2 248.8,195.6 248.3,195.1 247.7,194.5 247.1,193.9ZM261.5,194.3 264.4,197.3 267.4,200.3 270.4,203.3 273.4,206.3 273.4,220.3 270.4,217.4 267.4,214.4 264.4,211.5 261.5,208.5ZM285.5,218.2 288.4,221.0 291.4,223.9 294.4,226.8 297.4,229.6 297.4,243.3 294.4,240.6 291.4,237.7 288.4,234.9 285.5,232.1ZM309.5,240.9 312.4,243.6 315.4,246.3 318.5,249.1 321.4,251.7 321.4,265.1 318.5,262.5 315.4,259.8 312.4,257.1 309.5,254.5ZM333.4,262.4 336.4,264.9 339.4,267.5 342.4,270.1 345.3,272.6 345.3,285.6 342.4,283.1 339.4,280.7 336.4,278.1 333.4,275.6ZM357.4,282.6 360.4,285.0 363.4,287.5 366.4,289.8 369.3,292.2 369.3,304.8 366.4,302.5 363.4,300.2 360.4,297.8 357.4,295.5ZM381.4,301.5 384.4,303.7 387.4,306.0 390.4,308.2 393.3,310.4 393.3,322.7 390.4,320.6 387.4,318.4 384.4,316.2 381.4,314.0ZM405.4,319.0 408.4,321.1 411.4,323.1 414.4,325.2 417.3,327.1 417.3,339.1 414.4,337.2 411.4,335.2 408.4,333.2 405.4,331.2ZM429.4,335.0 432.4,336.9 435.4,338.8 438.4,340.6 441.3,342.4 441.3,354.1 438.4,352.3 435.4,350.6 432.4,348.7 429.4,346.9ZM453.4,349.6 456.4,351.3 459.4,353.0 462.4,354.6 465.3,356.2 465.3,367.6 462.4,366.0 459.4,364.4 456.4,362.7 453.4,361.1ZM477.4,362.6 480.4,364.1 483.4,365.6 486.4,367.1 489.3,368.5 489.3,379.6 486.4,378.2 483.4,376.8 480.4,375.3 477.4,373.8ZM501.4,374.1 504.4,375.4 507.4,376.7 510.4,378.0 513.3,379.2 513.3,390.0 510.4,388.8 507.4,387.6 504.4,386.3 501.4,385.0ZM525.4,384.0 528.4,385.2 531.5,386.3 534.4,387.4 537.4,388.4 537.4,399.0 534.4,398.0 531.5,396.9 528.4,395.8 525.4,394.7ZM549.5,392.4 552.4,393.4 555.5,394.3 558.4,395.2 561.4,396.0 561.4,406.4 558.4,405.6 555.5,404.7 552.4,403.8 549.5,402.9ZM573.5,399.3 576.4,400.1 579.5,400.8 582.4,401.5 585.4,402.2 585.4,412.4 582.4,411.7 579.5,411.1 576.4,410.3 573.5,409.6ZM597.5,404.7 600.4,405.2 603.5,405.8 606.4,406.3 609.4,406.8 609.4,416.9 606.4,416.4 603.5,415.9 600.4,415.4 597.5,414.9ZM621.5,408.6 624.4,408.9 627.5,409.3 630.4,409.6 633.4,409.9 633.4,420.0 630.4,419.7 627.5,419.4 624.4,419.0 621.5,418.6ZM645.5,411.0 648.4,411.2 651.5,411.4 654.4,411.6 657.4,411.7 657.4,421.7 654.4,421.6 651.5,421.4 648.4,421.2 645.5,421.0ZM669.5,412.1 672.2,412.1 675.1,412.1 677.8,412.1 680.6,412.1 680.6,422.1 677.8,422.1 675.1,422.1 672.2,422.1 669.5,422.1Z"/>

</g>
<rect x="418.9" y="41.1" width="224.6" height="218.7" fill="#fff"/>
<g clip-path="url(#ic)">
<path fill="#cf0000" d="M418.4,110.5 423.4,117.0 428.4,123.4 433.3,129.7 438.2,135.9 443.2,142.1 448.1,148.2 453.1,154.3 458.1,160.3 463.0,166.2 468.0,172.1 472.9,177.7 477.8,183.5 482.8,189.1 487.8,194.7 493.0,194.7 488.1,189.1 483.1,183.5 478.1,177.7 473.2,172.1 468.2,166.2 463.3,160.3 458.3,154.3 453.3,148.2 448.3,142.1 443.4,135.9 438.5,129.7 433.5,123.4 428.5,117.0 423.5,110.5ZM490.5,192.0 496.2,198.3 501.9,204.6 507.6,210.7 513.3,216.7 519.0,222.7 524.8,228.6 530.4,234.3 536.1,239.9 541.9,245.6 547.6,251.0 553.3,256.3 559.0,261.7 564.7,266.8 570.4,271.9 576.2,276.9 581.8,281.7 587.5,286.5 593.2,291.1 599.0,295.7 604.7,300.2 610.3,304.5 616.1,308.8 621.8,312.9 627.5,317.0 633.2,320.9 638.9,324.8 644.6,328.5 650.3,332.2 656.1,335.7 661.7,339.1 661.7,344.1 656.1,340.7 650.3,337.1 644.6,333.5 638.9,329.8 633.2,325.9 627.5,322.0 621.8,318.0 616.1,313.9 610.3,309.6 604.7,305.3 599.0,300.9 593.2,296.3 587.5,291.6 581.8,286.9 576.2,282.1 570.4,277.1 564.7,272.1 559.0,267.0 553.3,261.7 547.6,256.3 541.9,250.9 536.1,245.3 530.4,239.7 524.8,234.0 519.0,228.1 513.3,222.2 507.6,216.2 501.9,210.1 496.2,203.9 490.5,197.6ZM417.1,44.7 422.8,51.1 428.6,57.6 434.2,63.8 439.9,70.0 445.7,76.2 451.3,82.3 456.7,82.3 451.0,76.2 445.2,70.0 439.5,63.8 433.8,57.6 428.1,51.1 422.4,44.7ZM454.1,79.6 459.9,85.7 465.6,91.7 471.4,97.6 477.2,103.4 482.9,109.1 488.7,114.8 494.5,120.3 500.3,125.8 506.0,131.2 511.8,136.5 517.6,141.8 523.3,146.9 529.1,152.0 534.9,157.0 540.7,161.9 546.4,166.7 552.2,171.4 557.9,176.0 563.6,180.5 569.4,185.0 575.2,189.3 581.0,193.6 586.7,197.8 592.5,201.9 598.3,205.9 604.0,209.9 609.8,213.7 615.6,217.5 621.3,221.1 627.1,224.7 632.9,228.2 638.7,231.6 644.4,234.8 650.2,238.1 656.0,241.2 661.7,244.2 661.7,249.1 656.0,246.1 650.2,243.0 644.4,239.8 638.7,236.5 632.9,233.1 627.1,229.6 621.3,226.1 615.6,222.4 609.8,218.7 604.0,214.9 598.3,211.0 592.5,207.0 586.7,202.9 581.0,198.7 575.2,194.4 569.4,190.1 563.6,185.6 557.9,181.1 552.2,176.5 546.4,171.8 540.7,167.1 534.9,162.2 529.1,157.2 523.3,152.2 517.6,147.0 511.8,141.8 506.0,136.5 500.3,131.1 494.5,125.7 488.7,120.1 482.9,114.5 477.2,108.8 471.4,103.0 465.6,97.1 459.9,91.1 454.1,85.1ZM456.4,37.8 462.4,43.5 468.5,49.1 474.5,54.6 480.6,60.0 486.6,65.4 492.6,70.7 498.7,75.9 504.7,81.0 510.7,86.0 516.8,91.0 522.8,95.9 528.8,100.7 534.9,105.4 540.9,110.0 547.0,114.6 553.0,119.0 559.1,123.5 565.2,127.8 571.2,132.0 577.2,136.2 583.3,140.2 589.3,144.2 595.3,148.0 601.4,151.8 607.4,155.5 613.4,159.1 619.5,162.7 625.5,166.1 631.6,169.4 637.6,172.7 643.6,175.9 649.7,178.9 655.7,181.9 661.7,184.8 661.7,189.6 655.7,186.8 649.7,183.8 643.6,180.7 637.6,177.6 631.6,174.3 625.5,171.0 619.5,167.6 613.4,164.1 607.4,160.5 601.4,156.8 595.3,153.0 589.3,149.2 583.3,145.2 577.2,141.2 571.2,137.1 565.2,132.8 559.1,128.6 553.0,124.1 547.0,119.7 540.9,115.1 534.9,110.5 528.8,105.8 522.8,101.0 516.8,96.2 510.7,91.2 504.7,86.2 498.7,81.1 492.6,75.9 486.6,70.6 480.6,65.3 474.5,59.9 468.5,54.4 462.4,48.8 456.4,43.2ZM480.7,39.4 487.2,44.9 493.7,50.4 500.1,55.7 506.6,60.9 513.0,66.1 519.5,71.2 526.0,76.1 532.5,81.0 538.9,85.7 545.4,90.3 551.8,94.9 558.3,99.3 564.8,103.7 571.2,107.9 577.7,112.1 584.2,116.1 590.6,120.1 597.1,123.9 603.6,127.6 610.0,131.2 616.5,134.8 622.9,138.2 629.4,141.5 635.9,144.8 642.4,147.9 648.8,150.9 655.3,153.8 661.7,156.6 661.7,161.4 655.3,158.6 648.8,155.7 642.4,152.7 635.9,149.6 629.4,146.4 622.9,143.1 616.5,139.7 610.0,136.1 603.6,132.6 597.1,128.8 590.6,125.0 584.2,121.1 577.7,117.0 571.2,112.9 564.8,108.7 558.3,104.4 551.8,99.9 545.4,95.4 538.9,90.7 532.5,86.1 526.0,81.2 519.5,76.3 513.0,71.2 506.6,66.1 500.1,60.8 493.7,55.6 487.2,50.2 480.7,44.6Z"/>
<path fill="#00cc00" d="M415.5,111.0 417.7,114.0 419.9,117.0 422.2,120.0 424.4,122.9 434.4,122.9 432.2,120.0 429.9,117.0 427.7,114.0 425.4,111.0ZM433.6,135.0 435.9,138.0 438.3,141.1 440.6,144.0 442.9,147.0 453.1,147.0 450.7,144.0 448.4,141.1 446.0,138.0 443.7,135.0ZM452.4,159.0 454.8,162.0 457.2,165.0 459.7,168.0 462.1,170.9 472.4,170.9 470.0,168.0 467.5,165.0 465.1,162.0 462.7,159.0ZM472.0,183.0 474.6,186.0 477.2,189.1 479.6,192.0 482.2,194.9 492.8,194.9 490.2,192.0 487.7,189.1 485.1,186.0 482.5,183.0ZM492.8,207.1 493.2,207.6 493.7,208.1 494.1,208.6 494.5,209.0 505.3,209.0 504.8,208.6 504.4,208.1 503.9,207.6 503.5,207.1ZM500.0,203.2 502.5,205.9 504.9,208.6 507.3,211.3 509.8,214.0 509.8,225.8 507.3,223.1 504.9,220.5 502.5,217.9 500.0,215.1ZM521.9,227.0 524.9,230.1 527.9,233.2 530.9,236.3 533.8,239.3 533.8,250.6 530.9,247.6 527.9,244.6 524.9,241.6 521.9,238.6ZM545.9,251.2 548.8,254.0 551.8,256.8 554.9,259.6 557.8,262.4 557.8,273.2 554.9,270.5 551.8,267.8 548.8,265.0 545.9,262.2ZM569.9,273.3 572.8,275.9 575.8,278.5 578.8,281.1 581.8,283.6 581.8,294.1 578.8,291.6 575.8,289.1 572.8,286.5 569.9,283.9ZM593.9,293.7 596.9,296.2 599.9,298.5 602.8,300.8 605.8,303.2 605.8,313.3 602.8,310.9 599.9,308.7 596.9,306.4 593.9,304.0ZM617.9,312.3 620.9,314.5 623.8,316.6 626.8,318.7 629.8,320.8 629.8,330.6 626.8,328.5 623.8,326.4 620.9,324.4 617.9,322.2ZM641.9,329.1 644.9,331.0 647.9,333.0 650.8,334.9 653.8,336.8 653.8,346.2 650.8,344.3 647.9,342.5 644.9,340.6 641.9,338.6ZM413.6,47.1 416.2,50.1 418.7,53.1 421.2,56.0 423.8,58.9 434.4,58.9 431.8,56.0 429.3,53.1 426.7,50.1 424.1,47.1ZM434.4,71.0 437.0,74.0 439.7,77.0 442.4,80.0 445.0,82.9 455.9,82.9 453.2,80.0 450.5,77.0 447.8,74.0 445.1,71.0ZM462.0,89.4 465.0,92.6 467.9,95.6 470.9,98.6 473.9,101.7 473.9,113.1 470.9,110.0 467.9,107.1 465.0,104.1 462.0,101.0ZM486.0,113.8 489.0,116.7 491.9,119.6 494.8,122.4 497.9,125.3 497.9,136.3 494.8,133.5 491.9,130.7 489.0,127.9 486.0,125.0ZM509.9,136.6 513.0,139.4 515.9,142.1 518.8,144.8 521.8,147.5 521.8,158.2 518.8,155.5 515.9,152.9 513.0,150.2 509.9,147.5ZM534.0,158.2 536.9,160.7 539.9,163.2 543.0,165.8 545.9,168.2 545.9,178.6 543.0,176.2 539.9,173.7 536.9,171.2 534.0,168.7ZM558.0,178.1 560.9,180.4 563.9,182.8 566.9,185.2 569.9,187.5 569.9,197.6 566.9,195.3 563.9,193.0 560.9,190.6 558.0,188.3ZM581.9,196.7 584.9,198.8 587.9,201.0 590.9,203.2 593.8,205.3 593.8,215.1 590.9,213.1 587.9,210.9 584.9,208.7 581.9,206.6ZM606.0,213.8 609.0,215.9 611.9,217.9 614.9,219.8 617.9,221.8 617.9,231.3 614.9,229.4 611.9,227.5 609.0,225.5 606.0,223.5ZM630.0,229.5 633.0,231.3 635.9,233.1 638.8,234.9 641.9,236.7 641.9,245.9 638.8,244.2 635.9,242.5 633.0,240.7 630.0,238.9ZM653.9,243.6 655.9,244.7 657.8,245.8 659.8,246.8 661.7,247.9 661.7,256.9 659.8,255.9 657.8,254.8 655.9,253.8 653.9,252.7ZM456.4,35.0 459.4,37.9 462.4,40.6 465.4,43.4 468.4,46.2 468.4,57.1 465.4,54.3 462.4,51.5 459.4,48.8 456.4,46.0ZM480.5,57.2 483.5,59.9 486.4,62.5 489.3,65.1 492.4,67.8 492.4,78.3 489.3,75.7 486.4,73.2 483.5,70.6 480.5,67.9ZM504.4,78.1 507.5,80.7 510.4,83.1 513.3,85.6 516.3,88.1 516.3,98.4 513.3,95.9 510.4,93.5 507.5,91.1 504.4,88.6ZM528.4,97.8 531.4,100.2 534.4,102.5 537.4,104.8 540.4,107.1 540.4,117.2 537.4,114.9 534.4,112.7 531.4,110.3 528.4,108.0ZM552.5,116.2 555.4,118.4 558.4,120.6 561.4,122.8 564.4,124.9 564.4,134.7 561.4,132.6 558.4,130.4 555.4,128.3 552.5,126.2ZM576.4,133.3 579.4,135.3 582.4,137.3 585.4,139.3 588.3,141.3 588.3,150.8 585.4,148.9 582.4,146.9 579.4,144.9 576.4,143.0ZM600.5,149.0 603.5,150.9 606.4,152.7 609.4,154.5 612.4,156.3 612.4,165.6 609.4,163.8 606.4,162.1 603.5,160.3 600.5,158.5ZM624.5,163.4 627.5,165.1 630.4,166.7 633.3,168.3 636.4,169.9 636.4,179.0 633.3,177.4 630.4,175.8 627.5,174.2 624.5,172.5ZM648.4,176.3 651.4,177.8 654.4,179.2 657.3,180.7 660.3,182.1 660.3,191.0 657.3,189.5 654.4,188.1 651.4,186.7 648.4,185.2ZM480.7,36.7 483.7,39.3 486.7,41.9 489.7,44.4 492.6,46.9 492.6,57.3 489.7,54.9 486.7,52.3 483.7,49.8 480.7,47.3ZM504.8,56.9 507.8,59.4 510.7,61.7 513.7,64.1 516.7,66.4 516.7,76.6 513.7,74.2 510.7,71.9 507.8,69.6 504.8,67.2ZM528.8,75.7 531.8,78.0 534.7,80.2 537.6,82.4 540.7,84.6 540.7,94.4 537.6,92.3 534.7,90.1 531.8,88.0 528.8,85.7ZM552.7,93.2 555.7,95.3 558.7,97.3 561.6,99.3 564.6,101.3 564.6,110.9 561.6,108.9 558.7,106.9 555.7,105.0 552.7,102.9ZM576.8,109.2 579.7,111.1 582.7,113.0 585.7,114.9 588.7,116.7 588.7,126.0 585.7,124.3 582.7,122.4 579.7,120.5 576.8,118.7ZM600.8,123.9 603.7,125.6 606.7,127.3 609.7,129.0 612.6,130.6 612.6,139.7 609.7,138.1 606.7,136.4 603.7,134.8 600.8,133.1ZM624.7,137.1 627.7,138.6 630.7,140.1 633.7,141.6 636.6,143.1 636.6,152.0 633.7,150.6 630.7,149.1 627.7,147.6 624.7,146.1ZM648.8,148.9 651.8,150.3 654.7,151.6 657.7,152.9 660.7,154.2 660.7,162.9 657.7,161.6 654.7,160.3 651.8,159.0 648.8,157.7Z"/>
<path fill="#3030ff" d="M415.9,110.5 417.1,112.0 418.2,113.6 419.3,114.9 420.5,116.4 430.6,116.4 429.4,114.9 428.3,113.6 427.2,112.0 426.0,110.5ZM425.2,122.6 426.4,124.1 427.5,125.6 428.7,127.0 429.8,128.5 440.0,128.5 438.9,127.0 437.7,125.6 436.5,124.1 435.4,122.6ZM434.6,134.5 435.8,136.0 437.0,137.6 438.1,139.0 439.3,140.4 449.6,140.4 448.4,139.0 447.2,137.6 446.0,136.0 444.8,134.5ZM444.2,146.6 445.5,148.1 446.6,149.5 447.8,150.9 449.0,152.4 459.4,152.4 458.1,150.9 457.0,149.5 455.8,148.1 454.5,146.6ZM454.0,158.6 455.3,160.1 456.4,161.4 457.7,162.9 458.9,164.4 469.4,164.4 468.1,162.9 466.9,161.4 465.7,160.1 464.4,158.6ZM464.1,170.6 465.4,172.1 466.6,173.5 467.8,175.0 469.1,176.4 479.6,176.4 478.4,175.0 477.1,173.5 475.9,172.1 474.6,170.6ZM474.4,182.6 475.7,184.1 476.9,185.5 478.2,186.9 479.5,188.4 490.2,188.4 488.8,186.9 487.6,185.5 486.3,184.1 485.0,182.6ZM484.9,194.6 485.0,194.7 495.8,194.7 495.7,194.6ZM490.5,188.8 491.9,190.4 493.3,192.0 494.8,193.6 496.2,195.1 496.2,207.0 494.8,205.5 493.3,203.9 491.9,202.4 490.5,200.8ZM502.2,201.8 503.7,203.4 505.1,205.0 506.7,206.6 508.2,208.2 508.2,219.9 506.7,218.3 505.1,216.7 503.7,215.2 502.2,213.6ZM514.3,214.7 515.8,216.3 517.2,217.8 518.6,219.3 520.1,220.8 520.1,232.3 518.6,230.8 517.2,229.3 515.8,227.9 514.3,226.3ZM526.3,227.1 527.7,228.6 529.2,230.1 530.7,231.6 532.1,233.1 532.1,244.3 530.7,242.9 529.2,241.4 527.7,239.9 526.3,238.5ZM538.3,239.1 539.8,240.6 541.2,242.0 542.6,243.4 544.1,244.8 544.1,255.9 542.6,254.5 541.2,253.1 539.8,251.8 538.3,250.3ZM550.2,250.7 551.7,252.1 553.3,253.5 554.7,254.9 556.2,256.3 556.2,267.1 554.7,265.8 553.3,264.5 551.7,263.1 550.2,261.7ZM562.2,261.8 563.7,263.2 565.2,264.5 566.7,265.8 568.2,267.2 568.2,277.9 566.7,276.5 565.2,275.2 563.7,273.9 562.2,272.6ZM574.2,272.5 575.7,273.8 577.2,275.1 578.6,276.4 580.2,277.7 580.2,288.1 578.6,286.9 577.2,285.7 575.7,284.4 574.2,283.1ZM586.3,282.8 587.7,284.0 589.2,285.3 590.7,286.5 592.1,287.7 592.1,298.0 590.7,296.8 589.2,295.6 587.7,294.4 586.3,293.2ZM598.3,292.6 599.8,293.8 601.2,295.0 602.6,296.1 604.1,297.3 604.1,307.4 602.6,306.2 601.2,305.1 599.8,304.0 598.3,302.8ZM610.3,302.0 611.8,303.1 613.3,304.3 614.7,305.3 616.2,306.4 616.2,316.4 614.7,315.3 613.3,314.2 611.8,313.1 610.3,312.0ZM622.2,310.9 623.7,312.0 625.2,313.0 626.7,314.0 628.2,315.1 628.2,324.9 626.7,323.8 625.2,322.8 623.7,321.8 622.2,320.7ZM634.2,319.3 635.7,320.3 637.2,321.4 638.7,322.3 640.2,323.3 640.2,332.9 638.7,331.9 637.2,331.0 635.7,330.0 634.2,329.0ZM646.2,327.3 647.7,328.3 649.1,329.2 650.6,330.1 652.2,331.1 652.2,340.5 650.6,339.6 649.1,338.6 647.7,337.8 646.2,336.8ZM658.3,334.9 659.2,335.4 660.0,335.9 660.9,336.4 661.7,337.0 661.7,346.3 660.9,345.7 660.0,345.2 659.2,344.8 658.3,344.2ZM414.4,44.7 415.7,46.2 417.1,47.7 418.3,49.1 419.6,50.6 430.3,50.6 429.0,49.1 427.7,47.7 426.4,46.2 425.1,44.7ZM425.0,56.7 426.3,58.2 427.7,59.6 429.0,61.1 430.3,62.6 441.1,62.6 439.8,61.1 438.5,59.6 437.1,58.2 435.8,56.7ZM435.9,68.7 437.2,70.1 438.6,71.7 440.0,73.2 441.3,74.6 452.3,74.6 450.9,73.2 449.5,71.7 448.1,70.1 446.8,68.7ZM447.0,80.7 447.4,81.0 447.8,81.5 448.1,81.9 448.5,82.3 459.5,82.3 459.2,81.9 458.8,81.5 458.4,81.0 458.0,80.7ZM454.1,76.5 455.2,77.7 456.2,78.8 457.3,79.9 458.4,81.0 458.4,92.6 457.3,91.5 456.2,90.4 455.2,89.3 454.1,88.2ZM464.5,87.4 465.9,88.9 467.4,90.5 468.9,92.0 470.3,93.5 470.3,104.9 468.9,103.4 467.4,101.9 465.9,100.4 464.5,98.9ZM476.5,99.7 478.0,101.2 479.4,102.6 480.8,104.1 482.3,105.6 482.3,116.8 480.8,115.3 479.4,113.9 478.0,112.5 476.5,111.0ZM488.5,111.6 489.9,113.0 491.4,114.5 492.9,115.9 494.3,117.3 494.3,128.4 492.9,127.0 491.4,125.6 489.9,124.1 488.5,122.8ZM500.4,123.1 501.9,124.6 503.4,125.9 504.9,127.3 506.4,128.7 506.4,139.6 504.9,138.3 503.4,136.9 501.9,135.5 500.4,134.1ZM512.4,134.3 513.9,135.7 515.4,137.1 516.9,138.4 518.4,139.7 518.4,150.5 516.9,149.1 515.4,147.9 513.9,146.5 512.4,145.2ZM524.4,145.2 525.9,146.5 527.3,147.7 528.8,149.1 530.4,150.4 530.4,161.0 528.8,159.7 527.3,158.4 525.9,157.1 524.4,155.8ZM536.5,155.7 538.0,157.0 539.4,158.2 540.8,159.4 542.3,160.7 542.3,171.1 540.8,169.8 539.4,168.6 538.0,167.5 536.5,166.2ZM548.5,165.8 549.9,166.9 551.4,168.2 552.9,169.4 554.3,170.6 554.3,180.8 552.9,179.7 551.4,178.5 549.9,177.3 548.5,176.1ZM560.4,175.5 562.0,176.7 563.4,177.8 564.9,179.0 566.4,180.1 566.4,190.3 564.9,189.1 563.4,187.9 562.0,186.8 560.4,185.7ZM572.4,184.8 573.9,185.9 575.5,187.1 576.9,188.2 578.4,189.3 578.4,199.2 576.9,198.1 575.5,197.1 573.9,196.0 572.4,194.8ZM584.4,193.7 585.9,194.8 587.3,195.9 588.9,197.0 590.4,198.0 590.4,207.8 588.9,206.8 587.3,205.7 585.9,204.7 584.4,203.6ZM596.4,202.3 597.9,203.4 599.4,204.4 600.8,205.4 602.4,206.4 602.4,216.1 600.8,215.1 599.4,214.1 597.9,213.1 596.4,212.0ZM608.5,210.5 609.9,211.5 611.4,212.5 612.9,213.5 614.3,214.4 614.3,223.9 612.9,223.0 611.4,222.0 609.9,221.1 608.5,220.1ZM620.5,218.3 622.0,219.3 623.4,220.2 624.8,221.1 626.3,222.0 626.3,231.4 624.8,230.5 623.4,229.6 622.0,228.7 620.5,227.8ZM632.4,225.7 634.0,226.6 635.5,227.5 636.9,228.4 638.4,229.2 638.4,238.5 636.9,237.6 635.5,236.8 634.0,235.9 632.4,235.0ZM644.4,232.7 645.9,233.6 647.4,234.4 648.9,235.2 650.4,236.0 650.4,245.2 648.9,244.3 647.4,243.5 645.9,242.7 644.4,241.9ZM656.4,239.3 657.7,240.0 659.1,240.7 660.4,241.4 661.7,242.1 661.7,251.1 660.4,250.4 659.1,249.8 657.7,249.1 656.4,248.4ZM456.4,35.0 457.9,36.4 459.3,37.8 460.8,39.2 462.4,40.6 462.4,51.5 460.8,50.1 459.3,48.7 457.9,47.4 456.4,46.0ZM468.5,46.3 470.0,47.7 471.4,49.0 472.8,50.3 474.3,51.7 474.3,62.5 472.8,61.1 471.4,59.8 470.0,58.5 468.5,57.2ZM480.5,57.2 481.9,58.5 483.4,59.8 484.9,61.2 486.3,62.5 486.3,73.1 484.9,71.9 483.4,70.5 481.9,69.2 480.5,67.9ZM492.4,67.8 494.0,69.1 495.4,70.4 496.9,71.7 498.4,73.0 498.4,83.5 496.9,82.2 495.4,80.9 494.0,79.7 492.4,78.4ZM504.4,78.1 505.9,79.4 507.5,80.7 508.9,81.9 510.4,83.1 510.4,93.5 508.9,92.3 507.5,91.1 505.9,89.8 504.4,88.6ZM516.4,88.1 517.9,89.4 519.3,90.5 520.9,91.7 522.4,93.0 522.4,103.2 520.9,102.0 519.3,100.8 517.9,99.7 516.4,98.4ZM528.4,97.8 529.9,99.0 531.4,100.2 532.8,101.3 534.3,102.5 534.3,112.6 532.8,111.4 531.4,110.3 529.9,109.2 528.4,108.0ZM540.5,107.2 541.9,108.3 543.4,109.4 544.9,110.6 546.3,111.7 546.3,121.7 544.9,120.6 543.4,119.5 541.9,118.3 540.5,117.3ZM552.5,116.2 554.0,117.3 555.4,118.4 556.8,119.4 558.3,120.5 558.3,130.4 556.8,129.3 555.4,128.3 554.0,127.3 552.5,126.2ZM564.4,124.9 566.0,126.0 567.5,127.1 568.9,128.1 570.4,129.1 570.4,138.8 568.9,137.8 567.5,136.8 566.0,135.8 564.4,134.7ZM576.4,133.3 577.9,134.3 579.4,135.3 580.9,136.3 582.4,137.3 582.4,146.9 580.9,145.9 579.4,144.9 577.9,144.0 576.4,143.0ZM588.4,141.3 589.9,142.3 591.4,143.3 592.9,144.2 594.4,145.2 594.4,154.6 592.9,153.7 591.4,152.8 589.9,151.8 588.4,150.9ZM600.5,149.0 601.9,149.9 603.4,150.9 604.9,151.8 606.3,152.7 606.3,162.0 604.9,161.2 603.4,160.3 601.9,159.3 600.5,158.5ZM612.5,156.4 614.0,157.3 615.4,158.1 616.8,159.0 618.3,159.8 618.3,169.1 616.8,168.2 615.4,167.4 614.0,166.6 612.5,165.7ZM624.5,163.4 625.9,164.2 627.4,165.0 628.9,165.9 630.3,166.6 630.3,175.8 628.9,175.0 627.4,174.2 625.9,173.3 624.5,172.5ZM636.4,170.0 637.9,170.8 639.4,171.6 640.9,172.4 642.4,173.1 642.4,182.2 640.9,181.4 639.4,180.6 637.9,179.9 636.4,179.1ZM648.4,176.3 649.9,177.0 651.4,177.8 652.9,178.5 654.4,179.2 654.4,188.1 652.9,187.4 651.4,186.7 649.9,186.0 648.4,185.2ZM660.4,182.2 660.8,182.3 661.0,182.5 661.4,182.6 661.7,182.8 661.7,191.6 661.4,191.5 661.0,191.3 660.8,191.2 660.4,191.0ZM480.7,36.7 482.2,38.0 483.7,39.3 485.2,40.6 486.7,41.9 486.7,52.3 485.2,51.1 483.7,49.8 482.2,48.6 480.7,47.3ZM492.7,47.0 494.2,48.2 495.7,49.5 497.2,50.7 498.7,51.9 498.7,62.3 497.2,61.0 495.7,59.9 494.2,58.6 492.7,57.4ZM504.8,56.9 506.2,58.1 507.7,59.3 509.2,60.5 510.6,61.7 510.6,71.9 509.2,70.8 507.7,69.6 506.2,68.4 504.8,67.2ZM516.8,66.5 518.3,67.7 519.7,68.8 521.1,69.9 522.6,71.1 522.6,81.1 521.1,80.0 519.7,78.9 518.3,77.8 516.8,76.6ZM528.8,75.7 530.2,76.8 531.7,77.9 533.2,79.1 534.6,80.1 534.6,90.1 533.2,89.0 531.7,87.9 530.2,86.8 528.8,85.7ZM540.7,84.6 542.3,85.7 543.7,86.7 545.2,87.8 546.7,88.9 546.7,98.7 545.2,97.6 543.7,96.6 542.3,95.6 540.7,94.5ZM552.7,93.2 554.2,94.2 555.7,95.3 557.2,96.2 558.7,97.3 558.7,106.9 557.2,105.9 555.7,105.0 554.2,103.9 552.7,102.9ZM564.7,101.3 566.2,102.4 567.6,103.3 569.1,104.3 570.7,105.3 570.7,114.8 569.1,113.8 567.6,112.9 566.2,111.9 564.7,110.9ZM576.8,109.2 578.3,110.2 579.7,111.1 581.1,112.0 582.6,112.9 582.6,122.4 581.1,121.4 579.7,120.5 578.3,119.7 576.8,118.7ZM588.8,116.7 590.2,117.6 591.7,118.5 593.2,119.4 594.6,120.3 594.6,129.6 593.2,128.7 591.7,127.8 590.2,126.9 588.8,126.1ZM600.8,123.9 602.3,124.7 603.7,125.6 605.1,126.4 606.6,127.2 606.6,136.4 605.1,135.6 603.7,134.8 602.3,134.0 600.8,133.1ZM612.7,130.6 614.2,131.5 615.8,132.3 617.2,133.1 618.7,133.9 618.7,142.9 617.2,142.1 615.8,141.4 614.2,140.6 612.7,139.8ZM624.7,137.1 626.2,137.8 627.7,138.6 629.2,139.4 630.7,140.1 630.7,149.1 629.2,148.3 627.7,147.6 626.2,146.8 624.7,146.1ZM636.7,143.1 638.2,143.9 639.7,144.6 641.1,145.3 642.7,146.0 642.7,154.9 641.1,154.2 639.7,153.5 638.2,152.8 636.7,152.0ZM648.8,148.9 650.2,149.5 651.7,150.2 653.2,150.9 654.6,151.6 654.6,160.3 653.2,159.7 651.7,159.0 650.2,158.3 648.8,157.7ZM660.8,154.2 661.0,154.4 661.2,154.4 661.5,154.6 661.7,154.7 661.7,163.4 661.5,163.2 661.2,163.1 661.0,163.1 660.8,162.9Z"/>

</g>
<rect x="418.9" y="41.1" width="224.6" height="218.7" fill="none" stroke="#000" stroke-width="2"/>
<g fill="#000">
<rect x="89.0" y="533.6" width="2.6" height="13" fill="#000"/>
<rect x="119.3" y="538.6" width="1" height="8" fill="#222"/>
<rect x="148.8" y="538.6" width="1" height="8" fill="#222"/>
<rect x="178.3" y="538.6" width="1" height="8" fill="#222"/>
<rect x="207.1" y="533.6" width="2.6" height="13" fill="#000"/>
<rect x="237.4" y="538.6" width="1" height="8" fill="#222"/>
<rect x="266.9" y="538.6" width="1" height="8" fill="#222"/>
<rect x="296.4" y="538.6" width="1" height="8" fill="#222"/>
<rect x="325.1" y="533.6" width="2.6" height="13" fill="#000"/>
<rect x="355.4" y="538.6" width="1" height="8" fill="#222"/>
<rect x="384.9" y="538.6" width="1" height="8" fill="#222"/>
<rect x="414.5" y="538.6" width="1" height="8" fill="#222"/>
<rect x="443.2" y="533.6" width="2.6" height="13" fill="#000"/>
<rect x="473.5" y="538.6" width="1" height="8" fill="#222"/>
<rect x="503.0" y="538.6" width="1" height="8" fill="#222"/>
<rect x="532.5" y="538.6" width="1" height="8" fill="#222"/>
<rect x="561.2" y="533.6" width="2.6" height="13" fill="#000"/>
<rect x="591.6" y="538.6" width="1" height="8" fill="#222"/>
<rect x="621.1" y="538.6" width="1" height="8" fill="#222"/>
<rect x="650.6" y="538.6" width="1" height="8" fill="#222"/>
<rect x="679.3" y="533.6" width="2.6" height="13" fill="#000"/>
<rect x="90.4" y="7.2" width="13" height="2.6" fill="#000"/>
<rect x="90.4" y="27.8" width="8" height="1" fill="#222"/>
<rect x="90.4" y="47.6" width="8" height="1" fill="#222"/>
<rect x="90.4" y="67.4" width="8" height="1" fill="#222"/>
<rect x="90.4" y="86.3" width="13" height="2.6" fill="#000"/>
<rect x="90.4" y="106.9" width="8" height="1" fill="#222"/>
<rect x="90.4" y="126.7" width="8" height="1" fill="#222"/>
<rect x="90.4" y="146.5" width="8" height="1" fill="#222"/>
<rect x="90.4" y="165.5" width="13" height="2.6" fill="#000"/>
<rect x="90.4" y="186.1" width="8" height="1" fill="#222"/>
<rect x="90.4" y="205.9" width="8" height="1" fill="#222"/>
<rect x="90.4" y="225.6" width="8" height="1" fill="#222"/>
<rect x="90.4" y="244.6" width="13" height="2.6" fill="#000"/>
<rect x="90.4" y="265.2" width="8" height="1" fill="#222"/>
<rect x="90.4" y="285.0" width="8" height="1" fill="#222"/>
<rect x="90.4" y="304.8" width="8" height="1" fill="#222"/>
<rect x="90.4" y="323.8" width="13" height="2.6" fill="#000"/>
<rect x="90.4" y="344.3" width="8" height="1" fill="#222"/>
<rect x="90.4" y="364.1" width="8" height="1" fill="#222"/>
<rect x="90.4" y="383.9" width="8" height="1" fill="#222"/>
<rect x="90.4" y="402.9" width="13" height="2.6" fill="#000"/>
<rect x="90.4" y="423.5" width="8" height="1" fill="#222"/>
<rect x="90.4" y="443.3" width="8" height="1" fill="#222"/>
<rect x="90.4" y="463.1" width="8" height="1" fill="#222"/>
<rect x="90.4" y="482.0" width="13" height="2.6" fill="#000"/>
<rect x="90.4" y="502.6" width="8" height="1" fill="#222"/>
<rect x="90.4" y="522.4" width="8" height="1" fill="#222"/>
<rect x="90.4" y="542.2" width="8" height="1" fill="#222"/>
</g>
<rect x="90.4" y="8.4" width="590.0" height="538.2" fill="none" stroke="#000" stroke-width="2.6"/>
<g font-size="20.3px" fill="#000">
<text x="89.8" y="569" text-anchor="middle">0</text>
<text x="207.9" y="569" text-anchor="middle">0.2</text>
<text x="325.9" y="569" text-anchor="middle">0.4</text>
<text x="444.0" y="569" text-anchor="middle">0.6</text>
<text x="562.0" y="569" text-anchor="middle">0.8</text>
<text x="680.1" y="569" text-anchor="middle">1</text>
<text x="81.5" y="16.3" text-anchor="end">0</text>
<text x="81.5" y="95.4" text-anchor="end">-0.02</text>
<text x="81.5" y="174.6" text-anchor="end">-0.04</text>
<text x="81.5" y="253.7" text-anchor="end">-0.06</text>
<text x="81.5" y="332.9" text-anchor="end">-0.08</text>
<text x="81.5" y="412.0" text-anchor="end">-0.1</text>
<text x="81.5" y="491.1" text-anchor="end">-0.12</text>
</g>
<g fill="#000">
<line x1="143.5" y1="155.7" x2="228.1" y2="88.5" stroke="#000" stroke-width="2.7"/><polygon points="256.7,67.3 222.8,82.1 233.3,95.0" fill="#000"/>
<line x1="455.4" y1="321.5" x2="504.8" y2="285.8" stroke="#000" stroke-width="2.7"/><polygon points="532.5,265.4 499.5,279.8 510.0,291.7" fill="#000"/>
<circle cx="406.7" cy="367.2" r="67" fill="none" stroke="#000" stroke-width="2.2"/>
<text x="151.5" y="42.5" font-size="21.8px">Case1, Case2, Case3, Case4</text>
<rect x="136.4" y="452.7" width="94.1" height="5.5" fill="#cf0000"/>
<rect x="136.4" y="476" width="18.2" height="10.2" fill="#00cc00"/>
<rect x="172.4" y="476" width="17.9" height="10.2" fill="#00cc00"/>
<rect x="208.5" y="476" width="17.8" height="10.2" fill="#00cc00"/>
<rect x="136.4" y="500.7" width="12.1" height="10.4" fill="#3030ff"/>
<rect x="160.3" y="500.7" width="12.1" height="10.4" fill="#3030ff"/>
<rect x="184.6" y="500.7" width="11.7" height="10.4" fill="#3030ff"/>
<rect x="208.5" y="500.7" width="11.4" height="10.4" fill="#3030ff"/>
<g font-size="20.8px"><text x="247.4" y="462.3">Ref [37]</text><text x="247.6" y="487.4">Modified AGM</text><text x="247.6" y="512">HAN Method</text></g>
<text transform="translate(26.6,278) rotate(-90) scale(1.065,1)" text-anchor="middle" font-size="34.5px"><tspan font-style="italic">h</tspan>(ξ)</text>
<text transform="translate(385.3,600.3) scale(1.08,1)" text-anchor="middle" font-size="35.7px">ξ</text>
</g>
</svg>
</body></html>
